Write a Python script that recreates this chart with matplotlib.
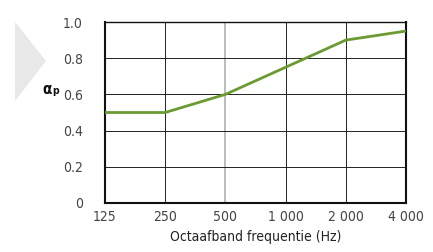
import matplotlib
matplotlib.use("Agg")
import matplotlib.pyplot as plt
from matplotlib.patches import Polygon
from matplotlib import font_manager as fm

freq_labels = ["125", "250", "500", "1 000", "2 000", "4 000"]
alpha_p = [0.50, 0.50, 0.60, 0.75, 0.90, 0.95]
y_ticks = [0, 0.2, 0.4, 0.6, 0.8, 1.0]
y_tick_labels = ["0", "0.2", "0.4", "0.6", "0.8", "1.0"]

# pick a condensed face if one is installed
cond = None
for f in fm.fontManager.ttflist:
    if f.stretch in ("condensed", "semi-condensed", 600, 500) or "Narrow" in f.name or "Condensed" in f.fname:
        if f.style == "normal" and f.weight in (400, "normal", "regular"):
            cond = f
            break
if cond is not None:
    fam = [cond.name, 'Liberation Sans', 'DejaVu Sans']
    plt.rcParams['font.stretch'] = cond.stretch
else:
    fam = ['Liberation Sans', 'DejaVu Sans']
plt.rcParams['font.family'] = fam

W, H = 433, 252
fig = plt.figure(figsize=(W / 100, H / 100), dpi=100)
ax = fig.add_axes([105 / W, 1 - 203 / H, (406 - 105) / W, (203 - 22) / H])

x = list(range(len(freq_labels)))
ax.plot(x, alpha_p, color="#6b9a33", lw=2.0, solid_capstyle="butt", zorder=3)

ax.set_xlim(0, len(freq_labels) - 1)
ax.set_ylim(0, 1.0)
ax.set_xticks(x)
ax.set_xticklabels(freq_labels)
ax.set_yticks(y_ticks)
ax.set_yticklabels(y_tick_labels)
ax.tick_params(length=0, labelsize=10, colors="#444444")
ax.tick_params(axis="x", pad=5)
ax.tick_params(axis="y", pad=16)
for lab in ax.get_xticklabels() + ax.get_yticklabels():
    lab.set_color("#444444")

ax.grid(True, color="#222222", lw=0.7)
ax.get_xgridlines()[2].set_color("#b0b0b0")
ax.get_xgridlines()[2].set_linewidth(1.2)
for s in ax.spines.values():
    s.set_linewidth(1.0)
    s.set_color("#111111")
ax.spines["left"].set_linewidth(1.5)
ax.spines["bottom"].set_linewidth(1.5)
ax.spines["right"].set_linewidth(1.5)

ax.set_xlabel("Octaafband frequentie (Hz)", fontsize=10, color="#222222", labelpad=4)

fig.text(42 / W, 1 - 89 / H, "α", fontsize=11, fontweight="bold",
         ha="left", va="center", color="#111111", family="DejaVu Sans")
fig.text(52 / W, 1 - 91 / H, "p", fontsize=7.5, fontweight="bold",
         ha="left", va="center", color="#111111", family="DejaVu Sans")

tri = Polygon([[15 / W, 1 - 22 / H], [46 / W, 1 - 61 / H], [15 / W, 1 - 101 / H]],
              closed=True, transform=fig.transFigure, facecolor="#e8e8e8", edgecolor="none")
fig.patches.append(tri)

fig.savefig("out.png", dpi=100)
